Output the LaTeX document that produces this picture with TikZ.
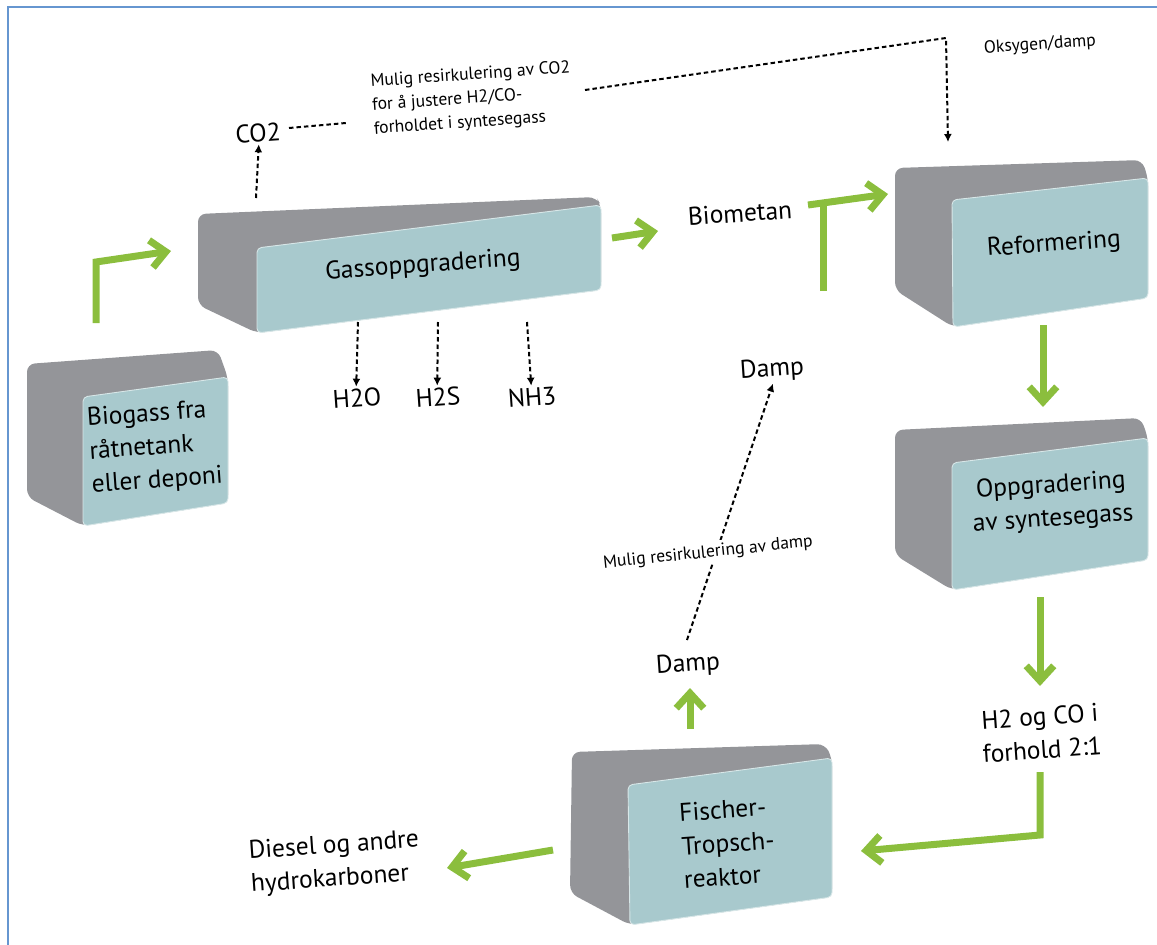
\documentclass[tikz,border=0pt]{standalone}
\usepackage{fontspec}
\setmainfont{PT Sans}
\usetikzlibrary{arrows.meta}
\definecolor{boksgraa}{RGB}{148,149,153}
\definecolor{boksfront}{RGB}{168,201,205}
\definecolor{pilgronn}{RGB}{139,190,61}
\definecolor{rammeblaa}{RGB}{102,150,208}

\tikzset{
  kropp/.style={fill=boksgraa, rounded corners=4.5pt},
  front/.style={fill=boksfront, draw=white!55!boksfront, line width=0.5pt, rounded corners=2.5pt},
  strom/.style={draw=pilgronn, line width=1.4mm, -{Straight Barb[length=3mm, width=5.5mm]}},
  stromlinje/.style={draw=pilgronn, line width=1.4mm},
  stiplet/.style={draw=black, line width=0.4mm, dash pattern=on 0.9mm off 0.6mm},
  stiplpil/.style={stiplet, -{Latex[length=1.6mm, width=1.6mm]}},
  tekst/.style={font=\fontsize{14.5}{19}\selectfont, rotate=4, inner sep=1pt},
  smatekst/.style={font=\fontsize{10}{13.5}\selectfont, rotate=4, inner sep=1pt},
}

\begin{document}
\begin{tikzpicture}[x=0.2mm, y=-0.2mm]
\useasboundingbox (0,0) rectangle (1157,945);
% ramme
\draw[rammeblaa, line width=0.45mm] (8,1000) -- (8,7) -- (1200,7);

% boksene
\fill[kropp] (27,364) -- (218,350) -- (228,378) -- (228,503) -- (83,526) -- (27,497) -- cycle;
\filldraw[front] (83,397) -- (228,377) -- (228,503) -- (83,526) -- cycle;
\fill[kropp] (198,214) -- (596,197) -- (601,205) -- (601,290) -- (257,333) -- (198,305) -- cycle;
\filldraw[front] (257,248) -- (601,205) -- (601,290) -- (257,333) -- cycle;
\fill[kropp] (895,168) -- (1142,160) -- (1148,178) -- (1148,298) -- (953,327) -- (895,290) -- cycle;
\filldraw[front] (952,200) -- (1148,178) -- (1148,298) -- (953,327) -- cycle;
\fill[kropp] (895,430) -- (1141,418) -- (1148,438) -- (1148,560) -- (952,590) -- (895,555) -- cycle;
\filldraw[front] (952,463) -- (1148,438) -- (1148,560) -- (952,590) -- cycle;
\fill[kropp] (572,752) -- (825,744) -- (832,758) -- (832,897) -- (630,925) -- (570,893) -- cycle;
\filldraw[front] (628,785) -- (832,758) -- (832,897) -- (630,925) -- cycle;

% tekster
\node[tekst, align=left] (biogass) at (155,448) {Biogass fra\\råtnetank\\eller deponi};
\node[tekst] (gass) at (423,266) {Gassoppgradering};
\node[tekst] (reform) at (1054,245) {Reformering};
\node[tekst, align=center] (synt) at (1052,503) {Oppgradering\\av syntesegass};
\node[tekst, align=left] (fischer) at (728,843) {Fischer-\\Tropsch-\\reaktor};
\node[tekst] (biometan) at (740,213) {Biometan};
\node[tekst] (co2) at (258,133) {CO2};
\node[tekst] (h2o) at (357,398) {H2O};
\node[tekst] (h2s) at (438,397) {H2S};
\node[tekst] (nh3) at (532,397) {NH3};
\node[tekst] (damp-opp) at (772,370) {Damp};
\node[tekst] (damp-ned) at (688,665) {Damp};
\node[tekst, align=center] (h2co) at (1041,733) {H2 og CO i\\forhold 2:1};
\node[tekst, align=left] (diesel) at (335,863) {Diesel og andre\\hydrokarboner};
\node[smatekst, align=left] (resirk-co2) at (472,99) {Mulig resirkulering av CO2\\for å justere H2/CO-\\forholdet i syntesegass};
\node[smatekst] (oksygen) at (1040,45) {Oksygen/damp};

% koordinater for pilene
\coordinate (bio-ut) at (96,323);
\coordinate (bio-knekk) at (96,262);
\coordinate (gass-inn) at (171,251);
\coordinate (gass-ut) at (612,238);
\coordinate (metan-inn) at (658,231);
\coordinate (metan-ned) at (823,291);
\coordinate (metan-topp) at (823,203);
\coordinate (metan-start) at (808,205);
\coordinate (reform-inn) at (888,194);
\coordinate (reform-ut) at (1043,325);
\coordinate (synt-inn) at (1043,407);
\coordinate (synt-ut) at (1040,597);
\coordinate (h2co-inn) at (1040,686);
\coordinate (h2co-ut) at (1040,772);
\coordinate (h2co-knekk) at (1040,835);
\coordinate (fischer-inn) at (861,851);
\coordinate (fischer-ut) at (553,850);
\coordinate (diesel-inn) at (447,868);
\coordinate (fischer-opp) at (690,729);
\coordinate (damp-inn) at (690,688);
\coordinate (gass-topp) at (256,198);
\coordinate (gass-h2o) at (358,322);
\coordinate (gass-h2s) at (438,322);
\coordinate (gass-nh3) at (527,322);
\coordinate (co2-hale) at (289,128);
\coordinate (co2-slutt) at (346,123);
\coordinate (resirk-start) at (585,90);
\coordinate (resirk-knekk) at (946,38);
\coordinate (reform-topp) at (948,142);
\coordinate (damp-hale) at (687,640);

% gronne piler
\draw[strom] (bio-ut) -- (bio-knekk) -- (gass-inn);
\draw[strom] (gass-ut) -- (metan-inn);
\draw[stromlinje] (metan-ned) -- (metan-topp);
\draw[strom] (metan-start) -- (reform-inn);
\draw[strom] (reform-ut) -- (synt-inn);
\draw[strom] (synt-ut) -- (h2co-inn);
\draw[strom] (h2co-ut) -- (h2co-knekk) -- (fischer-inn);
\draw[strom] (fischer-ut) -- (diesel-inn);
\draw[strom] (fischer-opp) -- (damp-inn);

% stiplede piler
\draw[stiplpil] (gass-topp) -- (co2.south);
\draw[stiplet] (co2-hale) -- (co2-slutt);
\draw[stiplpil] (resirk-start) -- (resirk-knekk) -- (reform-topp);
\draw[stiplpil] (gass-h2o) -- (h2o.north);
\draw[stiplpil] (gass-h2s) -- (h2s.north);
\draw[stiplpil] (gass-nh3) -- (nh3.north);
\draw[stiplpil] (damp-hale) -- (damp-opp.south);
\node[smatekst, rotate=2, fill=white, inner sep=2pt] (resirk-damp) at (708,553) {Mulig resirkulering av damp};
\end{tikzpicture}
\end{document}
